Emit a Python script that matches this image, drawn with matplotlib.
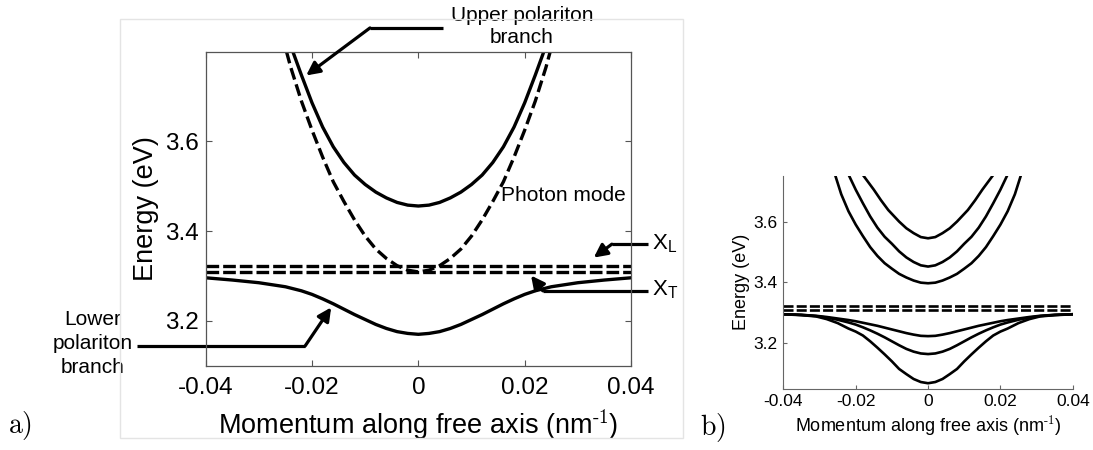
import matplotlib.pyplot as plt
from matplotlib.patches import Rectangle

# fonts: Arial-like for the MATLAB figure, cm for the a) b) labels
plt.rcParams['font.family'] = ['Liberation Sans', 'DejaVu Sans']
plt.rcParams['mathtext.fontset'] = 'cm'
plt.rcParams['mathtext.default'] = 'regular'

# ---- data, panel a) ----
k_upper_a = [-0.0236, -0.022, -0.020, -0.018, -0.016, -0.014, -0.012, -0.010, -0.008, -0.006, -0.004, -0.002,
             0.0, 0.002, 0.004, 0.006, 0.008, 0.010, 0.012, 0.014, 0.016, 0.018, 0.020, 0.022, 0.0236]
E_upper_a = [3.800, 3.748, 3.686, 3.632, 3.588, 3.553, 3.525, 3.504, 3.487, 3.474, 3.464, 3.458,
             3.456, 3.458, 3.464, 3.474, 3.487, 3.504, 3.525, 3.553, 3.588, 3.632, 3.686, 3.748, 3.800]

k_photon = [-0.0248, -0.024, -0.022, -0.020, -0.018, -0.016, -0.014, -0.012, -0.010, -0.008, -0.006, -0.004, -0.002,
            0.0, 0.002, 0.004, 0.006, 0.008, 0.010, 0.012, 0.014, 0.016, 0.018, 0.020, 0.022, 0.024, 0.0248]
E_photon = [3.800, 3.765, 3.690, 3.625, 3.565, 3.510, 3.466, 3.425, 3.389, 3.360, 3.339, 3.323, 3.313,
            3.309, 3.313, 3.323, 3.339, 3.360, 3.389, 3.425, 3.466, 3.510, 3.565, 3.625, 3.690, 3.765, 3.800]

k_lower_a = [-0.040, -0.035, -0.030, -0.025, -0.022, -0.020, -0.018, -0.016, -0.014, -0.012, -0.010, -0.008,
             -0.006, -0.004, -0.002, 0.0, 0.002, 0.004, 0.006, 0.008, 0.010, 0.012, 0.014, 0.016, 0.018,
             0.020, 0.022, 0.025, 0.030, 0.035, 0.040]
E_lower_a = [3.296, 3.291, 3.285, 3.276, 3.267, 3.259, 3.249, 3.238, 3.226, 3.214, 3.203, 3.192,
             3.183, 3.176, 3.172, 3.170, 3.172, 3.176, 3.183, 3.192, 3.203, 3.214, 3.226, 3.238, 3.249,
             3.259, 3.267, 3.276, 3.285, 3.291, 3.296]

k_exciton = [-0.04, 0.04]
E_XL = [3.323, 3.323]
E_XT = [3.309, 3.309]

# ---- data, panel b) ----
k_up1 = [-0.0178, -0.015, -0.013, -0.011, -0.008, -0.006, -0.004, -0.002, 0.0,
         0.002, 0.004, 0.006, 0.008, 0.011, 0.013, 0.015, 0.0178]
E_up1 = [3.750, 3.705, 3.670, 3.638, 3.600, 3.578, 3.562, 3.549, 3.545,
         3.549, 3.562, 3.578, 3.600, 3.638, 3.670, 3.705, 3.750]
k_up2 = [-0.0218, -0.020, -0.018, -0.016, -0.014, -0.012, -0.010, -0.008, -0.006, -0.004, -0.002, 0.0,
         0.002, 0.004, 0.006, 0.008, 0.010, 0.012, 0.014, 0.016, 0.018, 0.020, 0.0218]
E_up2 = [3.750, 3.705, 3.660, 3.617, 3.580, 3.550, 3.527, 3.502, 3.482, 3.467, 3.456, 3.452,
         3.456, 3.467, 3.482, 3.502, 3.527, 3.550, 3.580, 3.617, 3.660, 3.705, 3.750]
k_up3 = [-0.0256, -0.024, -0.022, -0.020, -0.018, -0.016, -0.014, -0.012, -0.010, -0.008, -0.006, -0.004, -0.002,
         0.0, 0.002, 0.004, 0.006, 0.008, 0.010, 0.012, 0.014, 0.016, 0.018, 0.020, 0.022, 0.024, 0.0256]
E_up3 = [3.750, 3.690, 3.634, 3.590, 3.552, 3.516, 3.487, 3.463, 3.445, 3.428, 3.416, 3.406, 3.399,
         3.397, 3.399, 3.406, 3.416, 3.428, 3.445, 3.463, 3.487, 3.516, 3.552, 3.590, 3.634, 3.690, 3.750]

k_low_b = [-0.040, -0.035, -0.031, -0.028, -0.025, -0.022, -0.020, -0.018, -0.016, -0.014, -0.012, -0.010,
           -0.008, -0.006, -0.004, -0.002, 0.0, 0.002, 0.004, 0.006, 0.008, 0.010, 0.012, 0.014, 0.016,
           0.018, 0.020, 0.022, 0.025, 0.028, 0.031, 0.035, 0.040]
E_low1 = [3.295, 3.293, 3.290, 3.286, 3.281, 3.276, 3.272, 3.267, 3.262, 3.257, 3.251, 3.245,
          3.239, 3.233, 3.228, 3.224, 3.223, 3.224, 3.228, 3.233, 3.239, 3.245, 3.251, 3.257, 3.262,
          3.267, 3.272, 3.276, 3.281, 3.286, 3.290, 3.293, 3.295]
E_low2 = [3.295, 3.293, 3.289, 3.284, 3.277, 3.268, 3.261, 3.252, 3.242, 3.231, 3.219, 3.206,
          3.193, 3.181, 3.172, 3.166, 3.164, 3.166, 3.172, 3.181, 3.193, 3.206, 3.219, 3.231, 3.242,
          3.252, 3.261, 3.268, 3.277, 3.284, 3.289, 3.293, 3.295]
E_low3 = [3.295, 3.292, 3.288, 3.279, 3.266, 3.248, 3.238, 3.225, 3.206, 3.185, 3.163, 3.140,
          3.115, 3.098, 3.082, 3.072, 3.068, 3.072, 3.082, 3.098, 3.115, 3.140, 3.163, 3.185, 3.206,
          3.225, 3.238, 3.248, 3.266, 3.279, 3.288, 3.292, 3.295]

xticks = [-0.04, -0.02, 0, 0.02, 0.04]
xtick_labels = ['-0.04', '-0.02', '0', '0.02', '0.04']
yticks = [3.2, 3.4, 3.6]
ytick_labels = ['3.2', '3.4', '3.6']

XLABEL = 'Momentum along free axis (nm$^{\\text{-1}}$)'
YLABEL = 'Energy (eV)'


def arrow(ax, pts, lw=2.3):
    xs = [p[0] for p in pts[:-1]]
    ys = [p[1] for p in pts[:-1]]
    ax.plot(xs, ys, 'k-', lw=lw, clip_on=False, solid_capstyle='butt')
    ax.annotate('', xy=pts[-1], xytext=pts[-2], annotation_clip=False,
                arrowprops=dict(arrowstyle='-|>', color='k', lw=lw, mutation_scale=20,
                                shrinkA=0, shrinkB=0))


fig = plt.figure(figsize=(10.93, 4.5), dpi=100)

# light frame around panel a) (exported figure border)
fig.patches.append(Rectangle((120 / 1093, 1 - 438 / 450), 563 / 1093, 419 / 450,
                             transform=fig.transFigure, fill=False, ec='#e4e4e4', lw=1))

# ---- panel a) ----
ax1 = fig.add_axes([0.1882, 0.1873, 0.3891, 0.6978])
ax1.plot(k_upper_a, E_upper_a, 'k-', lw=2.4)
ax1.plot(k_photon, E_photon, color='k', lw=2.4, dashes=(3.6, 1.5))
ax1.plot(k_exciton, E_XL, color='k', lw=2.4, dashes=(3.8, 1.2))
ax1.plot(k_exciton, E_XT, color='k', lw=2.4, dashes=(3.8, 1.2))
ax1.plot(k_lower_a, E_lower_a, 'k-', lw=2.4)

ax1.set_xlim(-0.04, 0.04)
ax1.set_ylim(3.1, 3.8)
ax1.set_xticks(xticks)
ax1.set_xticklabels(xtick_labels)
ax1.set_yticks(yticks)
ax1.set_yticklabels(ytick_labels)
ax1.tick_params(direction='in', top=True, right=True, length=4, width=0.8,
                color='#555555', labelsize=17.5, pad=5)
ax1.tick_params(axis='x', pad=8)
for s in ax1.spines.values():
    s.set_color('#555555')
    s.set_linewidth(0.9)
ax1.set_xlabel(XLABEL, fontsize=19.5, labelpad=6)
ax1.set_ylabel(YLABEL, fontsize=19.5, labelpad=4)

# annotations
ax1.text(0.0195, 3.902, 'Upper polariton\nbranch', ha='center', va='top', fontsize=15,
         linespacing=1.2, clip_on=False)
arrow(ax1, [(0.0046, 3.853), (-0.0091, 3.853), (-0.0211, 3.747)])
ax1.text(0.0155, 3.48, 'Photon mode', ha='left', va='center', fontsize=15)
ax1.text(0.0440, 3.373, 'X$_\\mathregular{L}$', ha='left', va='center', fontsize=16, clip_on=False)
arrow(ax1, [(0.0432, 3.371), (0.0364, 3.371), (0.0330, 3.341)])
ax1.text(0.0440, 3.269, 'X$_\\mathregular{T}$', ha='left', va='center', fontsize=16, clip_on=False)
arrow(ax1, [(0.0432, 3.267), (0.0234, 3.267), (0.0212, 3.301)])
ax1.text(-0.0612, 3.149, 'Lower\npolariton\nbranch', ha='center', va='center', fontsize=15,
         linespacing=1.35, clip_on=False)
arrow(ax1, [(-0.0529, 3.144), (-0.0213, 3.144), (-0.0164, 3.230)])

# ---- panel b) ----
ax2 = fig.add_axes([0.7167, 0.1362, 0.2648, 0.4727])
ax2.plot(k_up1, E_up1, 'k-', lw=1.9)
ax2.plot(k_up2, E_up2, 'k-', lw=1.9)
ax2.plot(k_up3, E_up3, 'k-', lw=1.9)
ax2.plot(k_exciton, E_XL, color='k', lw=1.9, dashes=(3.8, 1.2))
ax2.plot(k_exciton, E_XT, color='k', lw=1.9, dashes=(3.8, 1.2))
ax2.plot(k_low_b, E_low1, 'k-', lw=1.9)
ax2.plot(k_low_b, E_low2, 'k-', lw=1.9)
ax2.plot(k_low_b, E_low3, 'k-', lw=1.9)

ax2.set_xlim(-0.04, 0.04)
ax2.set_ylim(3.05, 3.75)
ax2.set_xticks(xticks)
ax2.set_xticklabels(xtick_labels)
ax2.set_yticks(yticks)
ax2.set_yticklabels(ytick_labels)
ax2.spines['top'].set_visible(False)
ax2.spines['right'].set_visible(False)
for s in ('left', 'bottom'):
    ax2.spines[s].set_color('#666666')
    ax2.spines[s].set_linewidth(0.8)
ax2.tick_params(direction='in', length=3, width=0.8, color='#666666', labelsize=12.5, pad=4)
ax2.set_xlabel(XLABEL, fontsize=13, labelpad=3)
ax2.set_ylabel(YLABEL, fontsize=13, labelpad=3)

# panel letters
fig.text(8 / 1093, 1 - 426 / 450, '$\\mathrm{a)}$', fontsize=20, ha='left', va='center')
fig.text(700 / 1093, 1 - 428 / 450, '$\\mathrm{b)}$', fontsize=20, ha='left', va='center')

fig.savefig('out.png', dpi=100)
